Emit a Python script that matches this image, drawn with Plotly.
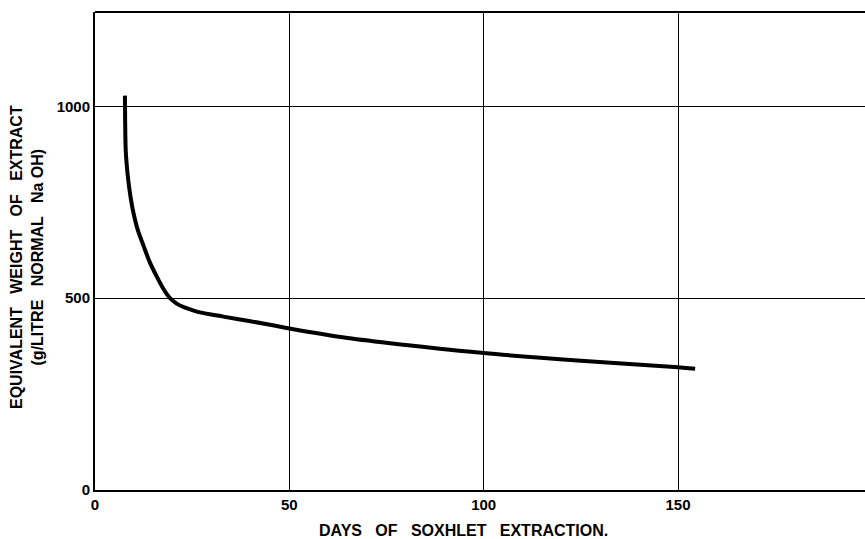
import plotly.graph_objects as go

days = [7.7, 7.75, 7.9, 8.2, 8.6, 9.2, 9.9, 11.0, 12.4, 14.0, 15.9, 17.5, 19.3, 21.0, 23.0, 25.0,
        27.0, 33.0, 40.0, 50.0, 65.0, 80.0, 100.0, 125.0, 150.0, 154.4]
equiv_weight = [1028, 969, 886, 843, 804, 760, 722, 678, 639, 596, 556, 526, 500, 486, 476, 469,
                463, 452, 440, 421, 396, 378, 357, 337, 320, 316]

x_ticks = [0, 50, 100, 150]
y_ticks = [0, 500, 1000]

FONT = "Liberation Sans"

fig = go.Figure()
fig.add_trace(go.Scatter(
    x=days, y=equiv_weight, mode="lines",
    line=dict(color="black", width=4, shape="spline", smoothing=0.9),
    hoverinfo="skip", showlegend=False,
))

fig.update_layout(
    width=865, height=539,
    margin=dict(l=95, r=0, t=12, b=49),
    paper_bgcolor="white", plot_bgcolor="white",
    font=dict(family=FONT, color="black"),
    xaxis=dict(
        range=[0, 198.1], tickvals=x_ticks, ticktext=[str(v) for v in x_ticks],
        showgrid=True, gridcolor="black", gridwidth=1.3,
        showline=True, linecolor="black", linewidth=2, mirror=False,
        zeroline=False, ticks="", ticklen=0,
        tickfont=dict(family=FONT, size=15, color="black", weight="bold"),
    ),
    yaxis=dict(
        range=[0, 1246], tickvals=y_ticks, ticktext=[str(v) for v in y_ticks],
        showgrid=True, gridcolor="black", gridwidth=1.3,
        showline=True, linecolor="black", linewidth=2,
        zeroline=False, ticks="", ticklen=0,
        tickfont=dict(family=FONT, size=15, color="black", weight="bold"),
    ),
    shapes=[dict(type="line", xref="paper", yref="paper", x0=0, x1=1, y0=1, y1=1,
                 line=dict(color="black", width=2))],
    annotations=[
        dict(text="DAYS   OF   SOXHLET   EXTRACTION.", xref="paper", yref="paper",
             x=(463 - 95) / 770, y=-0.062, xanchor="center", yanchor="top",
             showarrow=False, font=dict(family=FONT, size=16, color="black", weight="bold")),
        dict(text="EQUIVALENT   WEIGHT   OF   EXTRACT<br>(g/LITRE   NORMAL   Na OH)",
             xref="paper", yref="paper", x=(27 - 95) / 770, y=(490 - 257) / 478,
             xanchor="center", yanchor="middle", textangle=-90, showarrow=False,
             font=dict(family=FONT, size=16, color="black", weight="bold")),
    ],
)

fig.write_html("out.html")
